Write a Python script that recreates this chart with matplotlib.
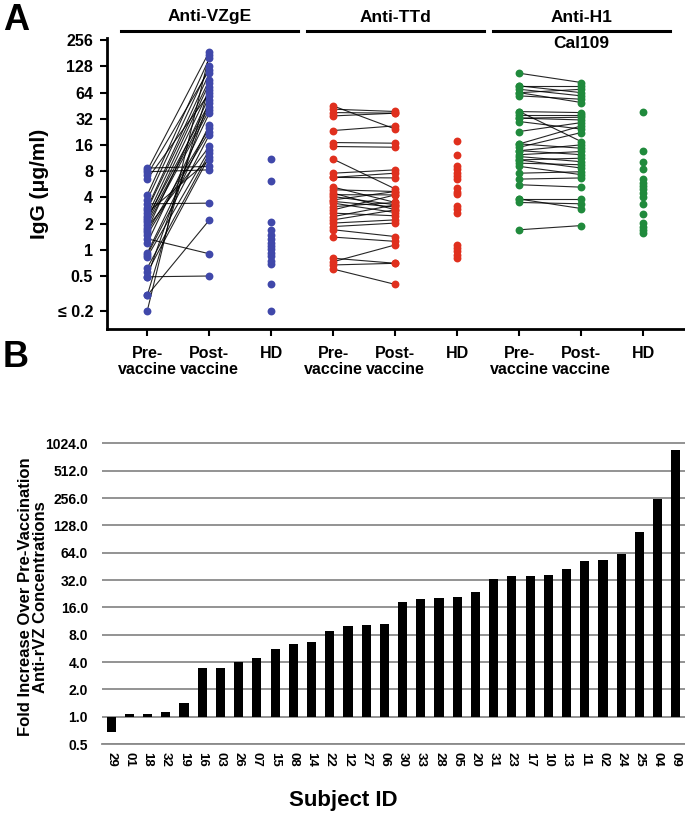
import numpy as np
import matplotlib
matplotlib.use("Agg")
import matplotlib.pyplot as plt
from matplotlib.transforms import blended_transform_factory

plt.rcParams['font.family'] = ['Liberation Sans', 'DejaVu Sans']
plt.rcParams['font.weight'] = 'bold'
NARROW = ['Liberation Sans Narrow', 'Liberation Sans', 'DejaVu Sans']

# ---------------- Panel A data ----------------
group_titles = ["Anti-VZgE", "Anti-TTd", "Anti-H1\nCal109"]
xtick_labels_A = ["Pre-\nvaccine", "Post-\nvaccine", "HD"] * 3
ytick_vals_A = [0.2, 0.5, 1, 2, 4, 8, 16, 32, 64, 128, 256]
ytick_labels_A = ["\u2264 0.2", "0.5", "1", "2", "4", "8", "16", "32", "64", "128", "256"]

vz_pre = [8.7, 8.2, 7.9, 7.3, 6.5, 4.28, 3.75, 3.38, 3.04, 2.9, 2.66, 2.46, 2.33, 2.2, 2.10, 1.94,
          1.79, 1.70, 1.61, 1.49, 1.34, 1.20, 0.92, 0.88, 0.83, 0.62, 0.55, 0.49, 0.49, 0.30, 0.30, 0.2]
vz_post = [9.1, 190, 8.3, 117, 63, 159, 128, 3.44, 107, 90, 10.8, 82, 48.5, 69, 44, 40.5,
           15.4, 58, 25, 22.9, 0.9, 37.2, 27.3, 21, 14.1, 12.9, 11.8, 0.5, 53, 75, 2.2, 174]
vz_hd = [11.0, 6.2, 2.11, 1.70, 1.49, 1.33, 1.21, 1.11, 1.02, 0.93, 0.84, 0.75, 0.69, 0.40, 0.2]

tt_pre = [45, 41.3, 37.8, 34.6, 23.5, 17.1, 15.4, 11.0, 7.6, 6.8, 6.8, 5.25, 4.9, 4.48, 4.3, 4.09,
          3.75, 3.6, 3.44, 3.14, 2.88, 2.64, 2.41, 2.21, 2.03, 1.85, 1.70, 1.40, 0.80, 0.73, 0.67, 0.60]
tt_post = [24.4, 38.9, 37.2, 37.2, 26.6, 16.8, 15.1, 5.0, 8.3, 7.6, 6.7, 3.5, 4.68, 2.88, 4.28, 3.29,
           4.68, 3.1, 2.68, 3.5, 4.28, 2.46, 3.29, 2.88, 2.21, 2.03, 1.42, 1.25, 0.70, 1.14, 0.70, 0.40]
tt_hd = [18.0, 12.4, 9.2, 8.5, 7.7, 7.1, 6.5, 5.1, 4.68, 4.4, 3.2, 2.93, 2.68, 1.14, 1.05, 0.96, 0.88, 0.80]

h1_pre = [107, 76.6, 76.6, 70, 64, 64, 58.8, 38.8, 38.8, 35.5, 32.6, 32.6, 29.8, 22.9, 16.5, 16.5,
          15.1, 13.8, 13.8, 12.4, 11.8, 10.8, 10.8, 9.9, 9.1, 7.6, 6.5, 5.6, 3.83, 3.83, 3.5, 1.70]
h1_post = [83.7, 64, 76.6, 58.8, 70, 49.3, 53.8, 37.8, 17.5, 35.5, 31.1, 33.4, 24.4, 29.0, 26.6, 14.7,
           22.3, 16.1, 12.4, 13.5, 10.3, 11.3, 8.7, 9.5, 7.3, 7.9, 6.7, 5.25, 3.83, 2.98, 3.38, 1.90]
h1_hd = [38.8, 13.8, 10.1, 8.5, 6.5, 5.9, 5.4, 5.0, 4.55, 4.09, 3.35, 2.57, 2.03, 1.85, 1.70, 1.55]

# ---------------- Panel B data ----------------
subject_ids = ["29", "01", "18", "32", "19", "16", "03", "26", "07", "15", "08", "14", "22", "12", "27", "06",
               "30", "33", "28", "05", "20", "31", "23", "17", "10", "13", "11", "02", "24", "25", "04", "09"]
fold_increase = [0.68, 1.08, 1.08, 1.13, 1.43, 3.48, 3.48, 4.0, 4.41, 5.5, 6.25, 6.7, 8.8, 9.85, 10.2, 10.6,
                 18.3, 19.7, 20.5, 21.0, 23.4, 33.1, 35.6, 35.6, 36.5, 42.2, 52, 53.5, 61.4, 108, 250, 867]
ytick_vals_B = [0.5, 1, 2, 4, 8, 16, 32, 64, 128, 256, 512, 1024]

W, H = 685, 813
fig = plt.figure(figsize=(W / 100, H / 100), dpi=100)

# ================= Panel A =================
axA = fig.add_axes([107 / W, 1 - 329 / H, (685 - 107) / W, (329 - 38) / H])
axA.set_yscale('log', base=2)
axA.set_ylim(0.123, 272)
axA.set_xlim(-0.65, 8.67)

colors = ["#4048AA", "#E0301E", "#208A3C"]
groups = [(vz_pre, vz_post, vz_hd), (tt_pre, tt_post, tt_hd), (h1_pre, h1_post, h1_hd)]
for g, (pre, post, hd) in enumerate(groups):
    x0 = 3 * g
    for a, b in zip(pre, post):
        axA.plot([x0, x0 + 1], [a, b], color='black', lw=0.8, alpha=0.85, zorder=2,
                 solid_capstyle='butt')
    axA.scatter([x0] * len(pre), pre, s=32, color=colors[g], zorder=3, linewidths=0)
    axA.scatter([x0 + 1] * len(post), post, s=32, color=colors[g], zorder=3, linewidths=0)
    axA.scatter([x0 + 2] * len(hd), hd, s=32, color=colors[g], zorder=3, linewidths=0)

axA.set_yticks(ytick_vals_A)
axA.set_yticklabels(ytick_labels_A, fontsize=11.5, fontweight='bold')
axA.yaxis.set_minor_locator(matplotlib.ticker.NullLocator())
axA.set_xticks(range(9))
axA.set_xticklabels(xtick_labels_A, fontsize=11.5, fontweight='bold', linespacing=1.15,
                    family=NARROW)
axA.tick_params(axis='both', direction='out', length=5, width=1.5, color='black')
axA.tick_params(axis='x', pad=7)
axA.tick_params(axis='y', pad=5)
for s in ['top', 'right']:
    axA.spines[s].set_visible(False)
for s in ['left', 'bottom']:
    axA.spines[s].set_linewidth(2)
axA.set_ylabel("IgG (\u03bcg/ml)", fontsize=15, fontweight='bold', labelpad=6)

trans = blended_transform_factory(axA.transData, fig.transFigure)
for g, title in enumerate(group_titles):
    xc = 3 * g + 1
    axA.plot([xc - 1.43, xc + 1.43], [1 - 31 / H] * 2, transform=trans, color='black', lw=2.2,
             clip_on=False)
    lines = title.split("\n")
    axA.text(xc, 1 - 17 / H, lines[0], transform=trans, ha='center', va='center', fontsize=12.5,
             fontweight='bold')
    if len(lines) > 1:
        axA.text(xc, 1 - 43 / H, lines[1], transform=trans, ha='center', va='center',
                 fontsize=12.5, fontweight='bold')

fig.text(3 / W, 1 - 30 / H, "A", fontsize=26, fontweight='bold', ha='left', va='baseline')
fig.text(3 / W, 1 - 367 / H, "B", fontsize=26, fontweight='bold', ha='left', va='baseline')

# ================= Panel B =================
axB = fig.add_axes([102 / W, 1 - 744 / H, (685 - 102) / W, (744 - 442) / H])
axB.set_yscale('log', base=2)
axB.set_ylim(0.5, 1024 * 2 ** 0.05)
axB.set_xlim(-0.5, 31.5)
xs = np.arange(len(subject_ids))
axB.bar(xs, np.array(fold_increase) - 1, bottom=1, width=0.5, color='black', zorder=3)
axB.set_yticks(ytick_vals_B)
axB.set_yticklabels([f"{v:.1f}" for v in ytick_vals_B], fontsize=10, fontweight='bold',
                    family=NARROW)
axB.yaxis.set_minor_locator(matplotlib.ticker.NullLocator())
axB.set_xticks(xs)
axB.set_xticklabels(subject_ids, rotation=270, fontsize=9.5, fontweight='bold', family=NARROW)
axB.tick_params(axis='both', length=0, pad=6)
axB.tick_params(axis='y', pad=10)
axB.grid(axis='y', color='#8a8a8a', lw=1.3, zorder=0)
axB.set_axisbelow(True)
for s in ['top', 'right', 'left']:
    axB.spines[s].set_visible(False)
axB.spines['bottom'].set_color('#8a8a8a')
axB.spines['bottom'].set_linewidth(1.3)

fig.text(33 / W, 1 - 597 / H, "Fold Increase Over Pre-Vaccination\nAnti-rVZ Concentrations",
         rotation=90, ha='center', va='center', fontsize=12, fontweight='bold',
         multialignment='center', linespacing=1.05)
fig.text(343 / W, 1 - 800 / H, "Subject ID", ha='center', va='center', fontsize=16,
         fontweight='bold')

fig.savefig("out.png", dpi=100)
